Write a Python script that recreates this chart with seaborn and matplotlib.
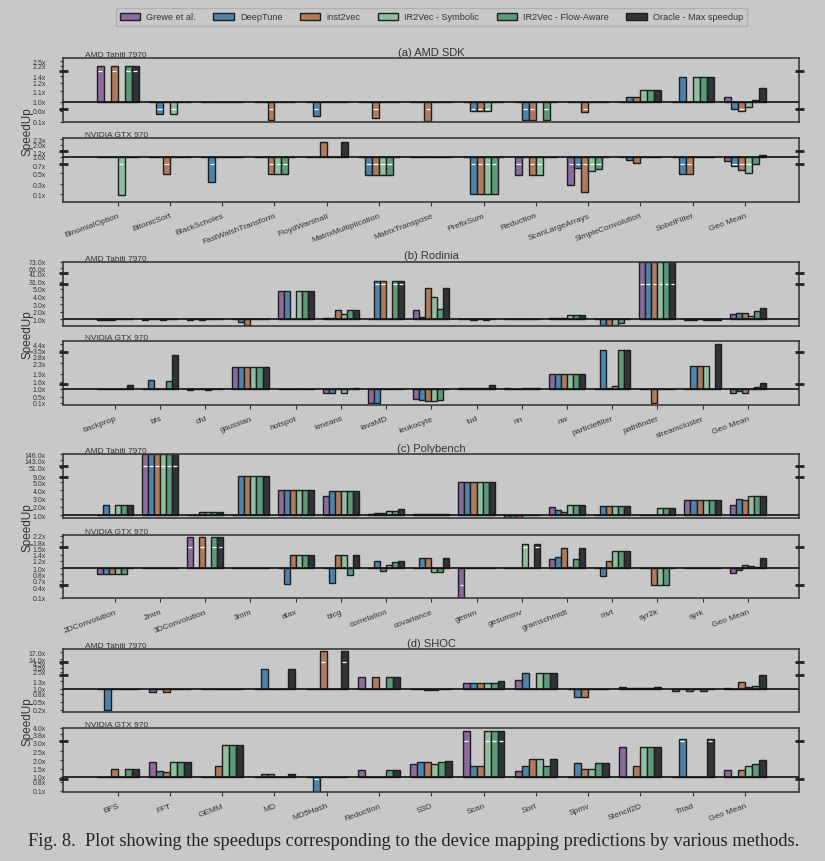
import numpy as np
import pandas as pd
import matplotlib
matplotlib.use("Agg")
import matplotlib.pyplot as plt
import matplotlib.transforms as mtrans
from matplotlib.patches import Patch
import seaborn as sns

# ---------------- data ----------------
methods = ["Grewe et al.", "DeepTune", "inst2vec", "IR2Vec - Symbolic",
           "IR2Vec - Flow-Aware", "Oracle - Max speedup"]
palette = ["#8b6b9d", "#4c84ac", "#b07b5a", "#90bf9f", "#5c9b79", "#2f3438"]

# (a) AMD SDK
sdk_benchmarks = ["BinomialOption", "BitonicSort", "BlackScholes", "FastWalshTransform",
                  "FloydWarshall", "MatrixMultiplication", "MatrixTranspose", "PrefixSum",
                  "Reduction", "ScanLargeArrays", "SimpleConvolution", "SobelFilter", "Geo Mean"]
sdk_amd = [
    [2.2, 1, 1, 1, 1, 1, 1, 1, 1, 1, 1, 1, 1.05],
    [1, 0.45, 1, 1, 0.35, 1, 1, 0.6, 0.2, 1, 1.05, 1.38, 0.68],
    [2.2, 1, 1, 0.2, 1, 0.25, 0.15, 0.6, 0.2, 0.55, 1.05, 1, 0.58],
    [1, 0.45, 1, 1, 1, 1, 1, 0.6, 1, 1, 1.12, 1.38, 0.75],
    [2.2, 1, 1, 1, 1, 1, 1, 1, 0.2, 1, 1.12, 1.38, 1.02],
    [2.2, 1, 1, 1, 1, 1, 1, 1, 1, 1, 1.12, 1.38, 1.14],
]
sdk_nvidia = [
    [1, 1, 1, 1, 1, 1, 1, 1, 0.46, 0.29, 1, 1, 0.85],
    [1, 1, 0.34, 1, 1, 0.46, 1, 0.1, 1, 0.63, 0.88, 0.48, 0.68],
    [1, 0.49, 1, 0.48, 2.15, 0.46, 1, 0.1, 0.46, 0.15, 0.8, 0.48, 0.58],
    [0.08, 1, 1, 0.48, 1, 0.46, 1, 0.1, 0.46, 0.57, 1, 1, 0.51],
    [1, 1, 1, 0.48, 1, 0.46, 1, 0.1, 1, 0.62, 1, 1, 0.75],
    [1, 1, 1, 1, 2.15, 1, 1, 1, 1, 1, 1, 1, 1.07],
]
sdk_amd_ticks = [0.1, 0.6, 1.0, 1.1, 1.2, 1.4, 2.2, 2.5]
sdk_nvidia_ticks = [0.1, 0.3, 0.5, 0.7, 1.0, 1.2, 2.0, 2.3]

# (b) Rodinia
rod_benchmarks = ["backprop", "bfs", "cfd", "gaussian", "hotspot", "kmeans", "lavaMD",
                  "leukocyte", "lud", "nn", "nw", "particlefilter", "pathfinder",
                  "streamcluster", "Geo Mean"]
rod_amd = [
    [0.95, 0.9, 0.97, 1, 4.7, 1.2, 1, 2.2, 1.02, 1, 1.2, 1, 73, 0.9, 1.7],
    [0.96, 1, 1, 0.65, 4.7, 1.2, 32, 1.3, 1, 1, 1.2, 0.3, 73, 0.85, 1.85],
    [0.93, 1, 0.97, 0.3, 1, 2.2, 32, 8.0, 0.97, 1, 1.15, 0.3, 73, 1, 1.8],
    [1, 0.85, 1, 1, 4.7, 1.75, 1, 4.0, 1, 1, 1.6, 0.3, 73, 0.85, 1.5],
    [1, 1, 1.02, 1, 4.7, 2.2, 32, 2.3, 0.96, 1, 1.6, 0.5, 73, 0.95, 2.1],
    [1.08, 1, 1, 1, 4.7, 2.2, 32, 8.0, 1, 1, 1.55, 1.1, 73, 0.95, 2.45],
]
rod_nvidia = [
    [1, 1, 0.95, 2.15, 1, 0.77, 0.1, 0.4, 1.08, 1.08, 1.9, 1, 1, 1, 0.73],
    [1, 1.68, 1, 2.15, 1, 0.77, 0.1, 0.3, 1.08, 1, 1.9, 3.5, 1, 2.2, 0.85],
    [0.97, 1, 1.02, 2.15, 1, 1, 1, 0.25, 1.08, 1, 1.9, 1.1, 0.1, 2.2, 0.78],
    [0.97, 1, 0.95, 2.15, 1, 0.77, 1, 0.25, 1.08, 1.08, 1.9, 1.25, 1, 2.2, 1.0],
    [1, 1.64, 1, 2.15, 1, 1, 1, 0.3, 1.12, 1.08, 1.9, 3.5, 1, 1, 1.15],
    [1.3, 2.9, 1.02, 2.15, 1, 1.1, 1, 1, 1.35, 1.08, 1.9, 3.5, 1, 4.5, 1.47],
]
rod_amd_ticks = [1.0, 2.0, 3.0, 4.0, 5.0, 31.0, 41.0, 66.0, 73.0]
rod_nvidia_ticks = [0.1, 0.5, 1.0, 1.6, 1.9, 2.3, 2.8, 3.5, 4.4]

# (c) Polybench
poly_benchmarks = ["2DConvolution", "2mm", "3DConvolution", "3mm", "atax", "bicg",
                   "correlation", "covariance", "gemm", "gesummv", "gramschmidt", "mvt",
                   "syr2k", "syrk", "Geo Mean"]
poly_amd = [
    [1, 146, 1, 1, 4.0, 3.3, 1.15, 1.2, 5.4, 0.7, 1.95, 1.02, 1, 2.9, 2.25],
    [2.3, 146, 1, 13, 4.0, 3.9, 1.3, 1.12, 5.4, 0.7, 1.65, 2.1, 1, 2.9, 2.95],
    [1, 146, 1.45, 13, 4.0, 3.9, 1.3, 1.12, 5.4, 0.7, 1.35, 2.1, 1, 2.9, 2.8],
    [2.3, 146, 1.45, 13, 4.0, 3.9, 1.5, 1.12, 5.4, 1, 2.2, 2.1, 1.85, 2.9, 3.3],
    [2.3, 146, 1.45, 13, 4.0, 3.9, 1.5, 1.12, 5.4, 1, 2.2, 2.1, 1.85, 2.9, 3.3],
    [2.3, 146, 1.45, 13, 4.0, 3.9, 1.7, 1.2, 5.4, 1, 2.2, 2.1, 1.85, 2.9, 3.3],
]
poly_nvidia = [
    [0.82, 1, 2.15, 1, 1, 1, 1, 1, 0.1, 1, 1.26, 1, 1, 1, 0.83],
    [0.82, 1, 1, 1, 0.57, 0.58, 1.2, 1.28, 1, 1, 1.33, 0.78, 1, 1, 0.95],
    [0.82, 1, 2.15, 1, 1.4, 1.38, 0.9, 1.28, 1, 1, 1.5, 1.2, 0.5, 1, 1.1],
    [0.82, 1, 1, 1, 1.4, 1.38, 1.1, 0.87, 1, 1.7, 1.03, 1.45, 0.5, 1, 1.05],
    [0.82, 1, 2.15, 1, 1.4, 0.79, 1.17, 0.87, 1, 1, 1.26, 1.45, 0.5, 1, 1.03],
    [1, 1, 2.15, 1, 1.4, 1.38, 1.2, 1.28, 1, 1.7, 1.5, 1.45, 1, 1, 1.28],
]
poly_amd_ticks = [1.0, 2.0, 3.0, 4.0, 5.0, 9.0, 51.0, 143.0, 146.0]
poly_nvidia_ticks = [0.1, 0.4, 0.7, 0.8, 1.0, 1.2, 1.4, 1.5, 1.8, 2.2]

# (d) SHOC
shoc_benchmarks = ["BFS", "FFT", "GEMM", "MD", "MD5Hash", "Reduction", "S3D", "Scan",
                   "Sort", "Spmv", "Stencil2D", "Triad", "Geo Mean"]
shoc_amd = [
    [1, 0.87, 1, 1, 1, 1.82, 1, 1.22, 1.48, 1, 1.05, 0.9, 1.03],
    [0.19, 1, 1, 3.18, 1, 1, 0.98, 1.22, 2.33, 0.665, 1.02, 1, 1],
    [1, 0.87, 1, 1, 17.5, 1.82, 0.95, 1.22, 1, 0.665, 1.03, 0.9, 1.28],
    [1, 1, 1, 1, 1, 1, 0.95, 1.22, 2.33, 1, 1.03, 1, 1.08],
    [1, 1, 1, 1, 1, 1.82, 1, 1.22, 2.33, 1, 1.03, 0.9, 1.12],
    [1, 1, 1, 3.18, 17.5, 1.82, 0.98, 1.31, 2.33, 1, 1.05, 1, 2.08],
]
shoc_nvidia = [
    [1, 1.92, 1, 1, 1, 1.45, 1.8, 3.9, 1.35, 1, 2.75, 1, 1.43],
    [1, 1.4, 1, 1.17, 0.05, 1, 1.92, 1.65, 1.68, 1.83, 1, 3.3, 1],
    [1.5, 1.3, 1.65, 1.17, 1, 1, 1.92, 1.65, 2.1, 1.52, 1.68, 1, 1.43],
    [1, 1.92, 2.85, 1, 1, 1, 1.8, 3.9, 2.1, 1.52, 2.75, 1, 1.65],
    [1.5, 1.92, 2.85, 1, 1, 1.45, 1.88, 3.9, 1.68, 1.83, 2.75, 1, 1.8],
    [1.5, 1.92, 2.85, 1.17, 1, 1.45, 1.95, 3.9, 2.1, 1.83, 2.75, 3.3, 2.0],
]
shoc_amd_ticks = [0.2, 0.5, 0.8, 1.0, 1.3, 2.5, 3.5, 4.5, 14.0, 17.0]
shoc_nvidia_ticks = [0.1, 0.8, 1.0, 1.5, 2.0, 2.5, 3.0, 3.8, 4.0]

group_titles = ["(a) AMD SDK", "(b) Rodinia", "(c) Polybench", "(d) SHOC"]
devices = ["AMD Tahiti 7970", "NVIDIA GTX 970"]

# -------------- broken-axis scale (tick value -> axis level) --------------
sdk_amd_levels = [-20, -9, 0, 10.4, 18.7, 25.4, 36, 40.4]
sdk_nvidia_levels = [-37.3, -27, -16.3, -8.3, 0, 5, 12.3, 17.7]
rod_amd_levels = [0, 7.6, 15.2, 22.8, 30.4, 37.5, 45.8, 51.3, 57.6]
rod_nvidia_levels = [-14, -8, 0, 7.3, 15.3, 25.7, 32.7, 38.7, 44.7]
poly_amd_levels = [0, 8.3, 16.6, 24.9, 33.2, 38.7, 47.7, 55.3, 61]
poly_nvidia_levels = [-30, -19.3, -12.7, -6.3, 0, 7, 13.3, 20, 25.7, 32.3]
shoc_amd_levels = [-21, -13, -5, 0, 7.3, 16.7, 20.7, 24.7, 29.3, 36.3]
shoc_nvidia_levels = [-14, -4.7, 0, 8, 16.7, 25.7, 34.7, 42.7, 49]


def to_axis(v, vals, pos):
    v = np.asarray(v, float)
    vals = np.asarray(vals, float)
    pos = np.asarray(pos, float)
    out = np.interp(v, vals, pos)
    lo = v < vals[0]
    hi = v > vals[-1]
    out[lo] = pos[0] + (v[lo] - vals[0]) * (pos[1] - pos[0]) / (vals[1] - vals[0])
    out[hi] = pos[-1] + (v[hi] - vals[-1]) * (pos[-1] - pos[-2]) / (vals[-1] - vals[-2])
    return out


# ---------------- figure ----------------
sns.set_theme(style="white")
BG = "#c8c8c8"
TXT = "#333333"
plt.rcParams["font.family"] = ["Liberation Sans", "DejaVu Sans"]
plt.rcParams["axes.facecolor"] = BG
plt.rcParams["figure.facecolor"] = BG

W, H = 825, 862
fig = plt.figure(figsize=(W / 100, H / 100), dpi=100)
L, R = 63.3, 799.3

panels = [
    # cats, rows, ticks, levels, ylim, top, bottom, margin, breaks, whites, is_bottom, device
    (sdk_benchmarks, sdk_amd, sdk_amd_ticks, sdk_amd_levels, (-20.6, 43.4), 59.3, 123.3, 1.04, [30.4, -7.6], [30.4, -7.6], False, 0),
    (sdk_benchmarks, sdk_nvidia, sdk_nvidia_ticks, sdk_nvidia_levels, (-45, 19), 139, 203, 1.04, [6, -7.3], [-7.3], True, 1),
    (rod_benchmarks, rod_amd, rod_amd_ticks, rod_amd_levels, (-6.4, 57.6), 262.7, 326.7, 1.14, [46.6, 35.6], [35.6], False, 0),
    (rod_benchmarks, rod_nvidia, rod_nvidia_ticks, rod_nvidia_levels, (-16, 47.7), 342.3, 406, 1.14, [37, 5], [], True, 1),
    (poly_benchmarks, poly_amd, poly_amd_ticks, poly_amd_levels, (-2.7, 61), 455.3, 519, 1.14, [49.7, 38.7], [49.7], False, 0),
    (poly_benchmarks, poly_nvidia, poly_nvidia_ticks, poly_nvidia_levels, (-30.3, 33.3), 535.7, 599.3, 1.14, [21, -17], [21, -17], True, 1),
    (shoc_benchmarks, shoc_amd, shoc_amd_ticks, shoc_amd_levels, (-23.6, 39.7), 650, 713.3, 1.04, [27, 13.7], [27], False, 0),
    (shoc_benchmarks, shoc_nvidia, shoc_nvidia_ticks, shoc_nvidia_levels, (-15.3, 49), 729, 793.3, 1.04, [35.7, -2.3], [35.7, -2.3], True, 1),
]
title_y = [53, 256.5, 449, 644]

for i, (cats, rows, ticks, levels, ylim, top, bottom, margin, breaks, whites, is_bottom, dev) in enumerate(panels):
    ax = fig.add_axes([L / W, 1 - bottom / H, (R - L) / W, (bottom - top) / H])
    n = len(cats)
    df = pd.DataFrame({
        "benchmark": np.tile(cats, len(methods)),
        "method": np.repeat(methods, n),
        "speedup": np.asarray(rows, float).ravel(),
    })
    df["level"] = to_axis(df["speedup"], ticks, levels)
    sns.barplot(data=df, x="benchmark", y="level", hue="method", order=cats,
                hue_order=methods, palette=palette, width=0.8, saturation=1,
                edgecolor="#1e1e1e", linewidth=1.0, errorbar=None, legend=False, ax=ax)
    bars = list(ax.patches)
    for p in bars:
        y0, h = p.get_y(), p.get_height()
        lo, hi = min(y0, y0 + h), max(y0, y0 + h)
        for yb in whites:
            if lo + 0.5 < yb < hi - 0.5:
                x0, w = p.get_x(), p.get_width()
                ax.plot([x0 + 0.2 * w, x0 + 0.8 * w], [yb, yb], color="white",
                        lw=0.9, zorder=5, solid_capstyle="butt")
    ax.axhline(0, color="#111111", lw=1.2, zorder=4)
    ax.set_xlim(-margin, n - 1 + margin)
    ax.set_ylim(*ylim)
    ax.set_yticks(to_axis(ticks, ticks, levels))
    ax.set_yticklabels([f"{t:.1f}x" for t in ticks])
    ax.tick_params(axis="y", left=True, right=False, length=2.5, width=0.8,
                   color=TXT, labelsize=5, labelcolor=TXT, pad=10)
    ax.set_xlabel("")
    ax.set_ylabel("")
    if is_bottom:
        ax.set_xticks(range(n))
        ax.set_xticklabels(cats, rotation=20, ha="right", rotation_mode="anchor")
        ax.tick_params(axis="x", bottom=True, length=3, width=0.8, color=TXT,
                       labelsize=6, labelcolor=TXT, pad=4)
    else:
        ax.set_xticks([])
    for s in ax.spines.values():
        s.set_visible(True)
        s.set_color("#3a3a3a")
        s.set_linewidth(1.2)
    tr = mtrans.blended_transform_factory(ax.transAxes, ax.transData)
    d = 4.5 / (R - L)
    for yb in breaks:
        for xa in (0, 1):
            ax.plot([xa - d, xa + d], [yb, yb], transform=tr, color="#222222",
                    lw=2.0, clip_on=False, solid_capstyle="butt", zorder=6)
    ax.text((85 - L) / (R - L), 1.0, devices[dev], transform=ax.transAxes,
            ha="left", va="bottom", fontsize=6, color=TXT)
    if dev == 0:
        fig.text((L + R) / 2 / W, 1 - title_y[i // 2] / H, group_titles[i // 2],
                 ha="center", va="center", fontsize=8, color=TXT)
    else:
        ymid = (panels[i - 1][5] + bottom) / 2
        fig.text(28 / W, 1 - ymid / H, "SpeedUp", rotation=90, ha="center",
                 va="center", fontsize=8.5, color=TXT)

handles = [Patch(facecolor=c, edgecolor="#1e1e1e", linewidth=1.0) for c in palette]
leg = fig.legend(handles, methods, loc="center", bbox_to_anchor=(431.5 / W, 1 - 18 / H),
                 ncol=6, frameon=True, handlelength=2.2, handleheight=0.9,
                 columnspacing=1.9, handletextpad=0.7, borderpad=0.45,
                 prop={"family": ["Liberation Sans"], "size": 6.6})
leg.get_frame().set_facecolor(BG)
leg.get_frame().set_edgecolor("#aaaaaa")
for t in leg.get_texts():
    t.set_color(TXT)

fig.text(28 / W, 1 - 842 / H,
         "Fig. 8.  Plot showing the speedups corresponding to the device mapping predictions by various methods.",
         ha="left", va="center", fontsize=13.2, color="#222222",
         family=["Liberation Serif", "DejaVu Serif"])

fig.savefig("out.png", dpi=100, facecolor=BG)
